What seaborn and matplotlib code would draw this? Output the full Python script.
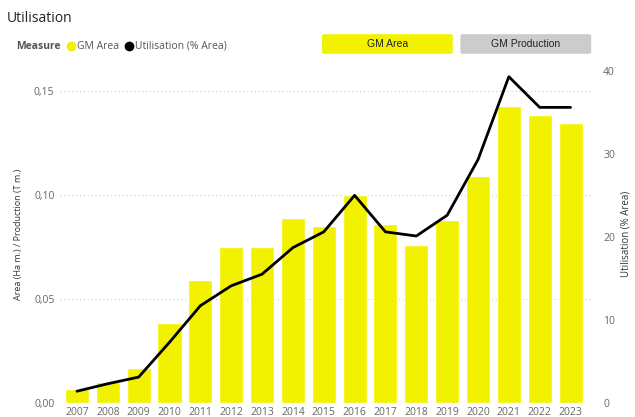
import numpy as np
import pandas as pd
import matplotlib.pyplot as plt
import seaborn as sns
from matplotlib.patches import FancyBboxPatch

# data
years = [2007, 2008, 2009, 2010, 2011, 2012, 2013, 2014, 2015,
         2016, 2017, 2018, 2019, 2020, 2021, 2022, 2023]
gm_area = [0.0067, 0.0101, 0.0168, 0.0385, 0.0590, 0.0750, 0.0750, 0.0890, 0.0850,
           0.1000, 0.0860, 0.0760, 0.0880, 0.1090, 0.1430, 0.1385, 0.1346]
utilisation = [1.4, 2.3, 3.1, 7.3, 11.7, 14.1, 15.5, 18.7, 20.6,
               25.0, 20.6, 20.1, 22.6, 29.3, 39.3, 35.6, 35.6]

left_ticks = [0.00, 0.05, 0.10, 0.15]
left_labels = ['0,00', '0,05', '0,10', '0,15']
right_ticks = [0, 10, 20, 30, 40]

YELLOW = '#F2F200'
GREY_TXT = '#666666'

sns.set_theme(style='white')
plt.rcParams['font.family'] = ['Open Sans', 'DejaVu Sans']

df = pd.DataFrame({'year': [str(y) for y in years], 'area': gm_area,
                   'util': utilisation, 'pos': np.arange(len(years))})

fig = plt.figure(figsize=(6.35, 4.17), dpi=100)
ax = fig.add_axes([0.0945, 0.034, 0.838, 0.81])

sns.barplot(data=df, x='year', y='area', color=YELLOW, saturation=1,
            width=0.78, ax=ax)
ax.set_ylim(0, 0.1625)
ax.set_xlim(-0.55, 16.7)
ax.set_yticks(left_ticks)
ax.set_yticklabels(left_labels)
for t in left_ticks:
    ax.axhline(t, color='#cccccc', lw=0.8, ls=(0, (1, 2.5)), zorder=0)
ax.set_xlabel('')
ax.set_ylabel('Area (Ha m.) / Production (T m.)', fontsize=6.5, color='#333333',
              labelpad=8)
ax.tick_params(axis='both', labelsize=7.5, colors=GREY_TXT, length=0, pad=4)
ax.tick_params(axis='x', pad=3)
for s in ax.spines.values():
    s.set_visible(False)

ax2 = ax.twinx()
sns.lineplot(data=df, x='pos', y='util', color='black', lw=2, ax=ax2)
ax2.set_ylim(0, 40.7)
ax2.set_yticks(right_ticks)
ax2.set_xlim(-0.55, 16.7)
ax2.set_ylabel('Utilisation (% Area)', fontsize=7, color='#333333', labelpad=4)
ax2.tick_params(axis='y', labelsize=7.5, colors=GREY_TXT, length=0, pad=8)
for s in ax2.spines.values():
    s.set_visible(False)

# title and legend
fig.text(0.011, 0.955, 'Utilisation', fontsize=10, color='#222222', va='center')
fig.text(0.025, 0.889, 'Measure', fontsize=7.5, fontweight='bold', color='#555555',
         va='center')
fig.lines.append(plt.Line2D([0.112], [0.889], marker='o', ms=6, color=YELLOW,
                            transform=fig.transFigure))
fig.text(0.122, 0.889, 'GM Area', fontsize=7.5, color='#555555', va='center')
fig.lines.append(plt.Line2D([0.203], [0.889], marker='o', ms=6, color='black',
                            transform=fig.transFigure))
fig.text(0.213, 0.889, 'Utilisation (% Area)', fontsize=7.5, color='#555555',
         va='center')

# slicer buttons
for x0, label, fc in [(0.507, 'GM Area', YELLOW), (0.725, 'GM Production', '#CCCCCC')]:
    fig.patches.append(FancyBboxPatch((x0, 0.871), 0.206, 0.047,
                                      boxstyle='round,pad=0,rounding_size=0.004',
                                      transform=fig.transFigure, fc=fc, ec='none'))
    fig.text(x0 + 0.103, 0.895, label, fontsize=7.5, color='#222222',
             ha='center', va='center', family=['Liberation Sans', 'DejaVu Sans'])

fig.savefig('out.png', dpi=100)
